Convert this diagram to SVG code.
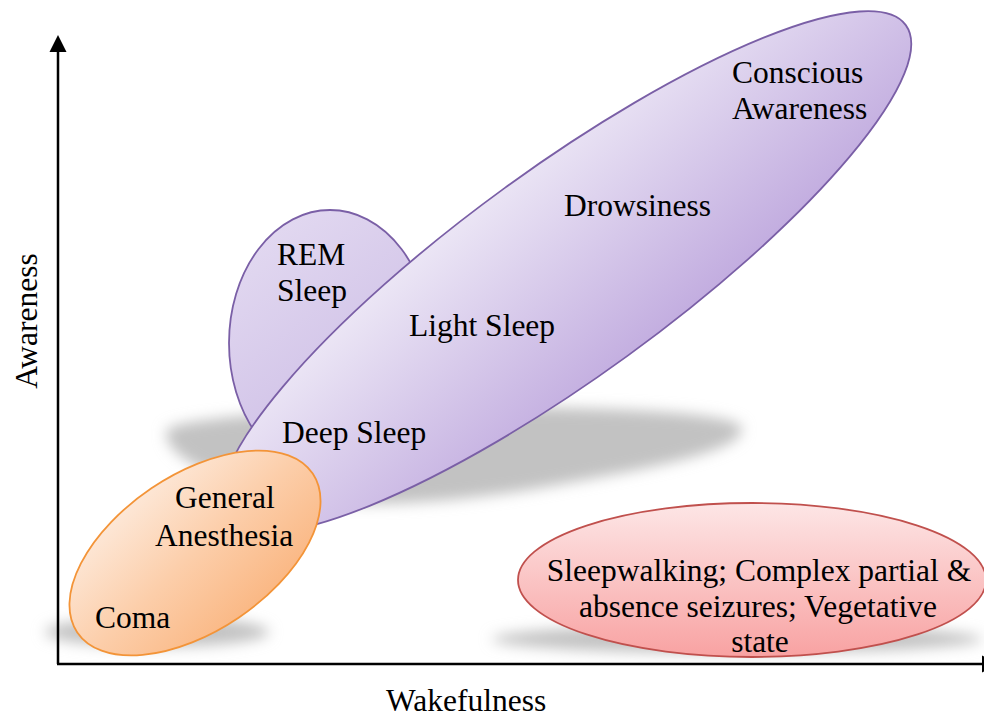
<svg xmlns="http://www.w3.org/2000/svg" width="984" height="717" viewBox="0 0 984 717">
<defs>
<linearGradient id="gPurple" x1="0.3" y1="0" x2="0.7" y2="1">
<stop offset="0" stop-color="#ede8f6"/>
<stop offset="1" stop-color="#c1abdf"/>
</linearGradient>
<linearGradient id="gRem" x1="0.2" y1="0" x2="0.8" y2="1">
<stop offset="0" stop-color="#e3daf1"/>
<stop offset="1" stop-color="#c8b7e3"/>
</linearGradient>
<linearGradient id="gOrange" x1="0.35" y1="0" x2="0.65" y2="1">
<stop offset="0" stop-color="#fde8d8"/>
<stop offset="0.5" stop-color="#fcceaa"/>
<stop offset="1" stop-color="#fab783"/>
</linearGradient>
<linearGradient id="gRed" x1="0" y1="0" x2="0" y2="1">
<stop offset="0" stop-color="#fde6e6"/>
<stop offset="1" stop-color="#f8a2a2"/>
</linearGradient>
<filter id="blur" x="-20%" y="-50%" width="140%" height="200%">
<feGaussianBlur stdDeviation="7"/>
</filter>
</defs>
<style>
.lbl{font-family:"Liberation Serif","Times New Roman","DejaVu Serif",serif;font-size:31.5px;fill:#000;}
.shadow{fill:#c2c2c2;filter:url(#blur);}
.purple{stroke:#7a5fa6;stroke-width:1.8;}
</style>
<g id="shadows">
<path class="shadow" d="M166,432 C166,404 738,396 742,428 C745,452 640,470 540,488 C440,505 330,510 280,495 C215,478 166,458 166,432 Z"/>
<ellipse class="shadow" cx="157" cy="632" rx="112" ry="15"/>
<ellipse class="shadow" cx="737" cy="639" rx="245" ry="14"/>
</g>
<g id="axes">
<line x1="58" y1="50" x2="58" y2="664" stroke="#000" stroke-width="2.5"/>
<polygon points="58,35 49.5,52 66.5,52" fill="#000"/>
<line x1="57" y1="664" x2="983" y2="664" stroke="#000" stroke-width="2.5"/>
<polygon points="982,655.5 999,664 982,672.5" fill="#000"/>
<text class="lbl" x="386" y="711">Wakefulness</text>
<text class="lbl" transform="translate(37,321) rotate(-90)" text-anchor="middle">Awareness</text>
</g>
<g id="rem-sleep">
<ellipse class="purple" cx="330" cy="343" rx="101" ry="133" fill="url(#gRem)"/>
<text class="lbl" x="277" y="265">REM</text>
<text class="lbl" x="277" y="301">Sleep</text>
</g>
<g id="sleep-continuum">
<ellipse class="purple" cx="0" cy="0" rx="420" ry="104" transform="translate(566,272) rotate(-36)" fill="url(#gPurple)"/>
<text class="lbl" x="732" y="83">Conscious</text>
<text class="lbl" x="732" y="119">Awareness</text>
<text class="lbl" x="564" y="216">Drowsiness</text>
<text class="lbl" x="409" y="336">Light Sleep</text>
<text class="lbl" x="282" y="443">Deep Sleep</text>
</g>
<g id="anesthesia-coma">
<ellipse cx="0" cy="0" rx="142" ry="78" transform="translate(195,553) rotate(-34)" fill="url(#gOrange)" stroke="#f39438" stroke-width="1.8"/>
<text class="lbl" x="175" y="508">General</text>
<text class="lbl" x="155" y="546">Anesthesia</text>
<text class="lbl" x="95" y="628">Coma</text>
</g>
<g id="dissociated-states">
<ellipse cx="752" cy="580" rx="234" ry="77" fill="url(#gRed)" stroke="#c0504d" stroke-width="1.8"/>
<text class="lbl" x="759" y="581" text-anchor="middle">Sleepwalking; Complex partial &amp;</text>
<text class="lbl" x="758" y="617" text-anchor="middle">absence seizures; Vegetative</text>
<text class="lbl" x="760" y="652" text-anchor="middle">state</text>
</g>
</svg>
